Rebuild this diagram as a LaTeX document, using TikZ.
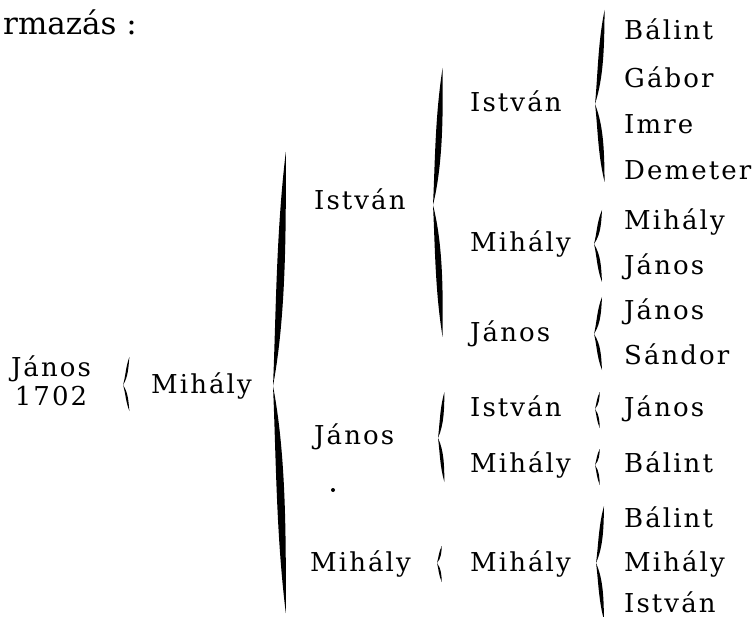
\documentclass[tikz,border=0pt]{standalone}
\usepackage{fontspec}
\setmainfont{DejaVu Serif}[LetterSpace=8]
\newfontfamily\headfont{DejaVu Serif}
\tikzset{
  kin/.style={anchor=base west, inner sep=0pt, font=\fontsize{26}{30}\selectfont},
  kinroot/.style={anchor=base, inner sep=0pt, font=\fontsize{26}{30}\selectfont}
}
% (x : top : tip : bottom : half width : depth)
\def\curlybrace(#1:#2:#3:#4:#5:#6){%
  \fill ({#1+0.6*#6},#2) .. controls ({#1-#5},{#2+0.35*(#3-#2)}) and ({#1-#5},{#3-0.3*(#3-#2)}) .. ({#1-#6},#3)
    .. controls ({#1+#5},{#3-0.3*(#3-#2)}) and ({#1+#5},{#2+0.35*(#3-#2)}) .. ({#1+0.6*#6},#2) -- cycle;
  \fill ({#1-#6},#3) .. controls ({#1-#5},{#3+0.3*(#4-#3)}) and ({#1-#5},{#4-0.35*(#4-#3)}) .. ({#1+0.6*#6},#4)
    .. controls ({#1+#5},{#4-0.35*(#4-#3)}) and ({#1+#5},{#3+0.3*(#4-#3)}) .. ({#1-#6},#3) -- cycle;
}

\begin{document}
\begin{tikzpicture}[x=1pt, y=-1pt]
			%%%%% START %%%%%
			\useasboundingbox (0, 0) rectangle (752, 617);
			
			\node[anchor=base west, inner sep=0pt, font=\headfont\fontsize{31}{36}\selectfont] (head) at (3, 35) {rmazás :};
			
			% root
			\node[kinroot] (root) at (51, 376) {János};
			\node[kinroot] (rootyear) at (51, 405) {1702};
			\curlybrace(127:357:385:411:1.4:4)
			\node[kin] (m1) at (151, 393) {Mihály};
			
			\curlybrace(281:152:386:613:5:8)
			
			% second generation
			\node[kin] (i2) at (314, 210) {István};
			\node[kin] (j2) at (314, 444) {János};
			\node[kin] (m2) at (310, 571) {Mihály};
			\fill (333, 490) circle (2);
			
			\curlybrace(439:68:205:337:4:6)
			\curlybrace(442:392:438:482:2.2:4)
			\curlybrace(440:546:563:582:1.4:3)
			
			% third generation
			\node[kin] (i3) at (470, 112) {István};
			\node[kin] (m3) at (470, 252) {Mihály};
			\node[kin] (j3) at (470, 342) {János};
			\node[kin] (i3b) at (470, 416) {István};
			\node[kin] (m3b) at (470, 472) {Mihály};
			\node[kin] (m3c) at (470, 571) {Mihály};
			
			\curlybrace(601:10:104:182:3.2:6)
			\curlybrace(599:210:244:282:2.2:5)
			\curlybrace(599:297:334:370:2.2:5)
			\curlybrace(598:392:409:428:1.4:3)
			\curlybrace(598:449:465:485:1.4:3)
			\curlybrace(601:506:563:620:2.6:5)
			
			% fourth generation
			\node[kin] (b4) at (624, 40) {Bálint};
			\node[kin] (g4) at (624, 88) {Gábor};
			\node[kin] (im4) at (624, 134) {Imre};
			\node[kin] (d4) at (624, 180) {Demeter};
			\node[kin] (m4) at (624, 230) {Mihály};
			\node[kin] (j4) at (624, 275) {János};
			\node[kin] (j4b) at (624, 320) {János};
			\node[kin] (s4) at (624, 364) {Sándor};
			\node[kin] (j4c) at (624, 416) {János};
			\node[kin] (b4b) at (624, 472) {Bálint};
			\node[kin] (b4c) at (624, 527) {Bálint};
			\node[kin] (m4b) at (624, 571) {Mihály};
			\node[kin] (i4) at (624, 612) {István};
			
			%%%%% END %%%%%
		\end{tikzpicture}
\end{document}
